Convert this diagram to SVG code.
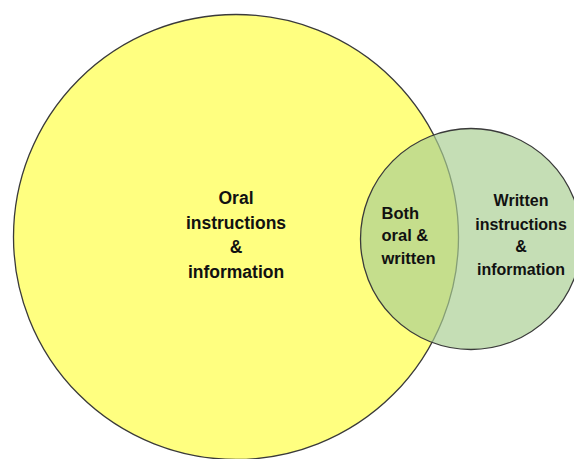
<svg xmlns="http://www.w3.org/2000/svg" width="574" height="459" viewBox="0 0 574 459">
<style>
.lbl{font-family:"Liberation Sans",Arial,sans-serif;font-weight:bold;fill:#111;}
.c{stroke:#3a3a3a;stroke-width:1.3;}
</style>
<rect width="574" height="459" fill="#fff"/>
<g id="oral">
<circle class="c" cx="236" cy="237" r="222.5" fill="#FFFF80"/>
<text class="lbl" font-size="17.5" text-anchor="middle"><tspan x="236" y="204">Oral</tspan><tspan x="236" y="228.5">instructions</tspan><tspan x="236" y="253">&amp;</tspan><tspan x="236" y="278">information</tspan></text>
</g>
<g id="written">
<circle class="c" cx="471" cy="239" r="110.5" fill="#A9CE92" fill-opacity="0.68"/>
<text class="lbl" font-size="16" text-anchor="middle"><tspan x="521" y="206">Written</tspan><tspan x="521" y="229.5">instructions</tspan><tspan x="521" y="252">&amp;</tspan><tspan x="521" y="275">information</tspan></text>
</g>
<g id="both">
<text class="lbl" font-size="16.5"><tspan x="381.5" y="218.5">Both</tspan><tspan x="381.5" y="241">oral &amp;</tspan><tspan x="381.5" y="263.5">written</tspan></text>
</g>
<g id="connectors"></g>
</svg>
